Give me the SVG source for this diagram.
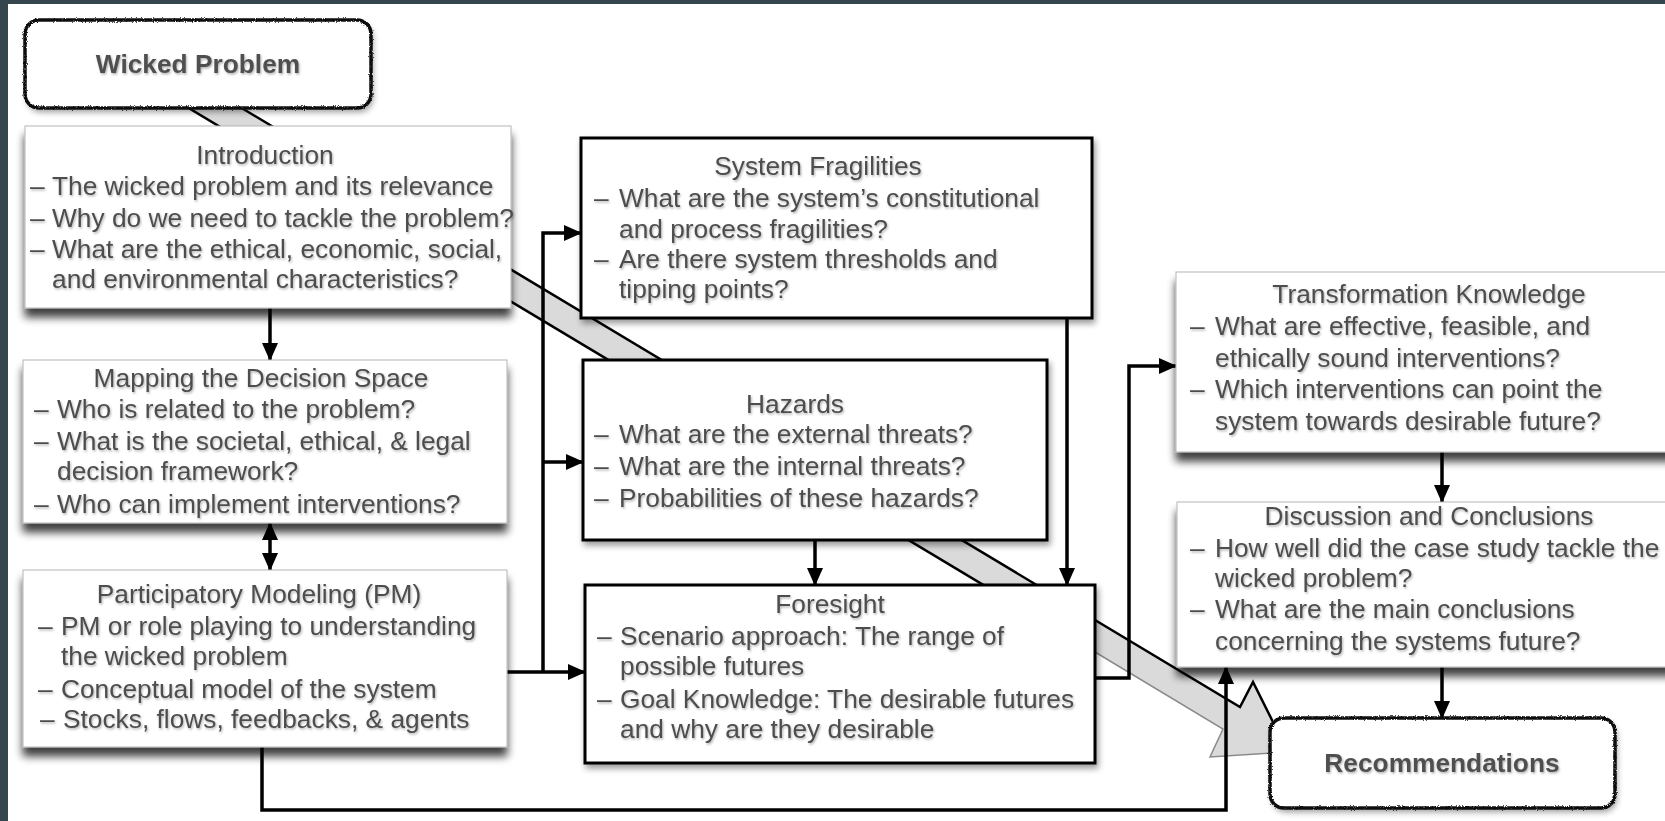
<svg xmlns="http://www.w3.org/2000/svg" width="1665" height="821" viewBox="0 0 1665 821">
<defs>
<style>
.t{font-family:"Liberation Sans",Arial,Helvetica,sans-serif;font-size:26.3px;fill:#4d4d4d}
.c{text-anchor:middle}
.b{font-weight:bold;fill:#505050}
.ln{stroke:#000;stroke-width:3.5;fill:none}
.soft{fill:#fff;stroke:#b5b5b5;stroke-width:1}
.hard{fill:#fff;stroke:#000;stroke-width:3}
.rough{fill:none;stroke:#111;stroke-width:3.5}
</style>
<marker id="ah" viewBox="0 0 18 18" markerUnits="userSpaceOnUse" markerWidth="18" markerHeight="18" refX="17" refY="9" orient="auto-start-reverse">
<path d="M0,1 L18,9 L0,17 Z" fill="#000"/>
</marker>
<filter id="sh" x="-5%" y="-10%" width="110%" height="140%">
<feGaussianBlur in="SourceAlpha" stdDeviation="4"/>
<feOffset dy="9"/>
<feComponentTransfer><feFuncA type="linear" slope="0.75"/></feComponentTransfer>
<feMerge><feMergeNode/><feMergeNode in="SourceGraphic"/></feMerge>
</filter>
<filter id="sh2" x="-5%" y="-10%" width="110%" height="130%">
<feGaussianBlur in="SourceAlpha" stdDeviation="3"/>
<feOffset dx="2" dy="4"/>
<feComponentTransfer><feFuncA type="linear" slope="0.4"/></feComponentTransfer>
<feMerge><feMergeNode/><feMergeNode in="SourceGraphic"/></feMerge>
</filter>
<filter id="rf" x="-5%" y="-10%" width="110%" height="120%">
<feTurbulence type="fractalNoise" baseFrequency="0.9" numOctaves="2" seed="4"/>
<feDisplacementMap in="SourceGraphic" scale="3" xChannelSelector="R" yChannelSelector="G"/>
</filter>
<filter id="ts" x="-5%" y="-20%" width="110%" height="140%">
<feDropShadow dx="1" dy="1.5" stdDeviation="1" flood-color="#000" flood-opacity="0.3"/>
</filter>
</defs>

<rect x="0" y="0" width="1665" height="821" fill="#fff"/>
<rect x="0" y="0" width="1665" height="4" fill="#35464f"/>
<rect x="0" y="0" width="8" height="821" fill="#35464f"/>

<g id="connectors">
<g id="big-arrow">
<polygon points="220,95 1240,707 1253,682 1288,752 1210,757 1223,729 167,95" fill="#dadada"/>
<path d="M220,95 L1240,707 L1253,682 L1288,752" fill="none" stroke="#000" stroke-width="2.5"/>
<path d="M167,95 L1095,652" fill="none" stroke="#000" stroke-width="2.5"/>
<path d="M1095,652 L1223,729 L1210,757 L1288,752" fill="none" stroke="#8a8a8a" stroke-width="1.5"/>
</g>
<path class="ln" d="M270,308 V360" marker-end="url(#ah)"/>
<path class="ln" d="M270,523 V570" marker-start="url(#ah)" marker-end="url(#ah)"/>
<path class="ln" d="M507,672 H585" marker-end="url(#ah)"/>
<path class="ln" d="M543,672 V233 H581" marker-end="url(#ah)"/>
<path class="ln" d="M543,462 H583" marker-end="url(#ah)"/>
<path class="ln" d="M815,540 V585" marker-end="url(#ah)"/>
<path class="ln" d="M1067,318 V585" marker-end="url(#ah)"/>
<path class="ln" d="M1095,678 H1129 V366 H1176" marker-end="url(#ah)"/>
<path class="ln" d="M1442,452 V502" marker-end="url(#ah)"/>
<path class="ln" d="M1442,667 V718" marker-end="url(#ah)"/>
<path class="ln" d="M262,747 V810 H1226 V667" marker-end="url(#ah)"/>
</g>

<g id="wicked-problem">
<rect x="25" y="20" width="346" height="88" rx="14" fill="#fff" filter="url(#sh2)"/>
<rect class="rough" x="25" y="20" width="346" height="88" rx="14" filter="url(#rf)"/>
<text class="t c b" x="198" y="73" filter="url(#ts)">Wicked Problem</text>
</g>

<g id="introduction">
<rect class="soft" x="25" y="126" width="486" height="182" filter="url(#sh)"/>
<g class="t" filter="url(#ts)">
<text class="c" x="265" y="164">Introduction</text>
<text y="195"><tspan x="30">–</tspan><tspan x="52">The wicked problem and its relevance</tspan></text>
<text y="227"><tspan x="30">–</tspan><tspan x="52">Why do we need to tackle the problem?</tspan></text>
<text y="258"><tspan x="30">–</tspan><tspan x="52">What are the ethical, economic, social,</tspan></text>
<text x="52" y="288">and environmental characteristics?</text>
</g>
</g>

<g id="mapping">
<rect class="soft" x="23" y="360" width="484" height="163" filter="url(#sh)"/>
<g class="t" filter="url(#ts)">
<text class="c" x="261" y="387">Mapping the Decision Space</text>
<text y="418"><tspan x="34">–</tspan><tspan x="57">Who is related to the problem?</tspan></text>
<text y="450"><tspan x="34">–</tspan><tspan x="57">What is the societal, ethical, &amp; legal</tspan></text>
<text x="57" y="480">decision framework?</text>
<text y="513"><tspan x="34">–</tspan><tspan x="57">Who can implement interventions?</tspan></text>
</g>
</g>

<g id="participatory-modeling">
<rect class="soft" x="23" y="570" width="484" height="177" filter="url(#sh)"/>
<g class="t" filter="url(#ts)">
<text class="c" x="259" y="603">Participatory Modeling (PM)</text>
<text y="635"><tspan x="38">–</tspan><tspan x="61">PM or role playing to understanding</tspan></text>
<text x="61" y="665">the wicked problem</text>
<text y="698"><tspan x="38">–</tspan><tspan x="61">Conceptual model of the system</tspan></text>
<text y="728"><tspan x="40">–</tspan><tspan x="63">Stocks, flows, feedbacks, &amp; agents</tspan></text>
</g>
</g>

<g id="system-fragilities">
<rect class="hard" x="581" y="138" width="511" height="180" filter="url(#sh2)"/>
<g class="t" filter="url(#ts)">
<text class="c" x="818" y="175">System Fragilities</text>
<text y="207"><tspan x="594">–</tspan><tspan x="619">What are the system’s constitutional</tspan></text>
<text x="619" y="238">and process fragilities?</text>
<text y="268"><tspan x="594">–</tspan><tspan x="619">Are there system thresholds and</tspan></text>
<text x="619" y="298">tipping points?</text>
</g>
</g>

<g id="hazards">
<rect class="hard" x="583" y="360" width="464" height="180" filter="url(#sh2)"/>
<g class="t" filter="url(#ts)">
<text class="c" x="795" y="413">Hazards</text>
<text y="443"><tspan x="594">–</tspan><tspan x="619">What are the external threats?</tspan></text>
<text y="475"><tspan x="594">–</tspan><tspan x="619">What are the internal threats?</tspan></text>
<text y="507"><tspan x="594">–</tspan><tspan x="619">Probabilities of these hazards?</tspan></text>
</g>
</g>

<g id="foresight">
<rect class="hard" x="585" y="585" width="510" height="178" filter="url(#sh2)"/>
<g class="t" filter="url(#ts)">
<text class="c" x="830" y="613">Foresight</text>
<text y="645"><tspan x="597">–</tspan><tspan x="620">Scenario approach: The range of</tspan></text>
<text x="620" y="675">possible futures</text>
<text y="708"><tspan x="597">–</tspan><tspan x="620">Goal Knowledge: The desirable futures</tspan></text>
<text x="620" y="738">and why are they desirable</text>
</g>
</g>

<g id="transformation-knowledge">
<rect class="soft" x="1176" y="272" width="520" height="180" filter="url(#sh)"/>
<g class="t" filter="url(#ts)">
<text class="c" x="1429" y="303">Transformation Knowledge</text>
<text y="335"><tspan x="1190">–</tspan><tspan x="1215">What are effective, feasible, and</tspan></text>
<text x="1215" y="367">ethically sound interventions?</text>
<text y="398"><tspan x="1190">–</tspan><tspan x="1215">Which interventions can point the</tspan></text>
<text x="1215" y="430">system towards desirable future?</text>
</g>
</g>

<g id="discussion-conclusions">
<rect class="soft" x="1177" y="502" width="520" height="165" filter="url(#sh)"/>
<g class="t" filter="url(#ts)">
<text class="c" x="1429" y="525">Discussion and Conclusions</text>
<text y="557"><tspan x="1190">–</tspan><tspan x="1215">How well did the case study tackle the</tspan></text>
<text x="1215" y="587">wicked problem?</text>
<text y="618"><tspan x="1190">–</tspan><tspan x="1215">What are the main conclusions</tspan></text>
<text x="1215" y="650">concerning the systems future?</text>
</g>
</g>

<g id="recommendations">
<rect x="1270" y="718" width="345" height="90" rx="14" fill="#fff" filter="url(#sh2)"/>
<rect class="rough" x="1270" y="718" width="345" height="90" rx="14" filter="url(#rf)"/>
<text class="t c b" x="1442" y="772" filter="url(#ts)">Recommendations</text>
</g>
</svg>
